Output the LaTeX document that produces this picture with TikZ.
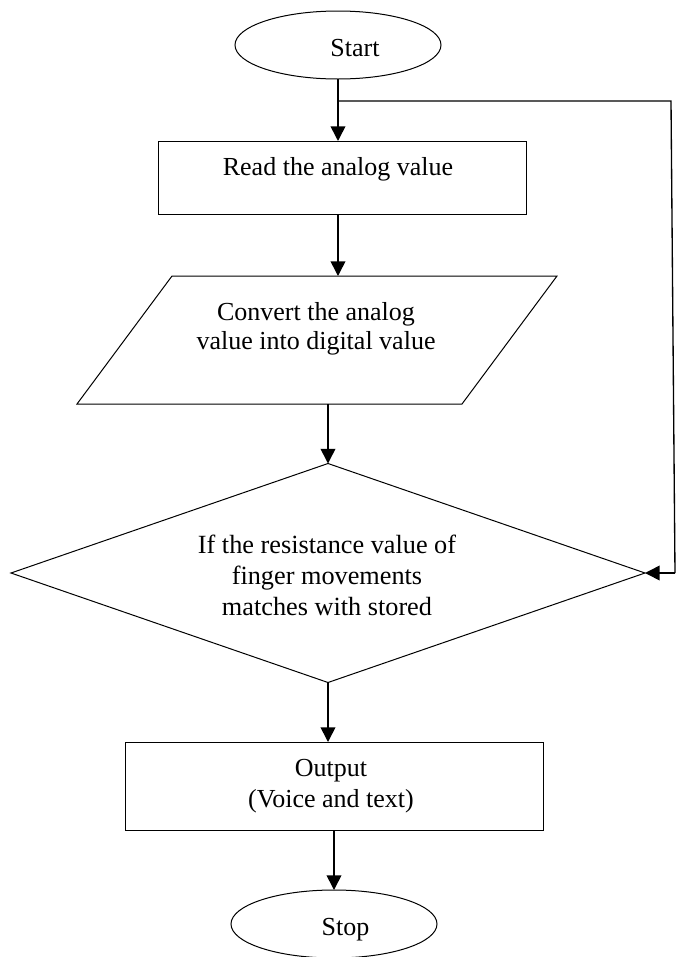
\documentclass[tikz,border=0pt]{standalone}
\usepackage{fontspec}
\setmainfont{Liberation Serif}
\usetikzlibrary{shapes.geometric,arrows.meta}
\tikzset{
  shapebox/.style={draw=black,line width=0.75pt,inner sep=0pt,outer sep=0pt},
  termbox/.style={shapebox,ellipse,minimum width=206*0.75pt,minimum height=68*0.75pt},
  lbl/.style={font=\fontsize{19.5}{21.75}\selectfont,inner sep=0pt,align=center},
  conn/.style={line width=1.2pt},
  arr/.style={conn,-{Triangle[length=11pt,width=11pt]}},
  loopline/.style={line width=1pt}
}
\begin{document}
\begin{tikzpicture}[x=0.75pt,y=-0.75pt]
\useasboundingbox (0,0) rectangle (676,957);
% shapes
\node[termbox] (start) at (338,45) {};
\node[shapebox,rectangle,minimum width=368*0.75pt,minimum height=73*0.75pt] (read) at (342,177.5) {};
% parallelogram (input/output shape)
\coordinate (ctl) at (172,276);
\coordinate (ctr) at (557,276);
\coordinate (cbr) at (462,404);
\coordinate (cbl) at (77,404);
\draw[line width=0.75pt,line join=miter] (ctl) -- (ctr) -- (cbr) -- (cbl) -- cycle;
\coordinate (convtop) at (338,276);
\coordinate (convbot) at (328,404);
\node[shapebox,diamond,minimum width=634*0.75pt,minimum height=219*0.75pt] (dec) at (328,573) {};
\node[shapebox,rectangle,minimum width=418*0.75pt,minimum height=88*0.75pt] (out) at (334,786) {};
\node[termbox] (stop) at (334,924) {};
% texts
\node[lbl,anchor=base] (tstart) at (355,56) {Start};
\node[lbl,anchor=base] (tread) at (338,175) {Read the analog value};
\node[lbl] (tconv) at (316,328.5) {Convert the analog\\value into digital value};
\node[lbl,font=\fontsize{19.7}{23.25}\selectfont] (tdec) at (327,575) {If the resistance value of\\finger movements\\matches with stored};
\node[lbl,font=\fontsize{19.5}{23.25}\selectfont] (tout) at (331,786) {Output\\(Voice and text)};
\node[lbl,anchor=base] (tstop) at (345.5,935) {Stop};
% connectors
\coordinate (junc) at (338,101);
\coordinate (c1) at (671,101);
\coordinate (c2) at (675,573);
\draw[conn] (start.south) -- (junc);
\draw[arr] (junc) -- (junc |- read.north);
\draw[arr] (read.south -| junc) -- (convtop);
\draw[arr] (convbot) -- (dec.north);
\draw[arr] (dec.south) -- (dec.south |- out.north);
\draw[arr] (out.south) -- (stop.north);
\draw[loopline] (junc) -- (c1) -- (c2);
\draw[arr] (c2) -- (dec.east);
\end{tikzpicture}
\end{document}
